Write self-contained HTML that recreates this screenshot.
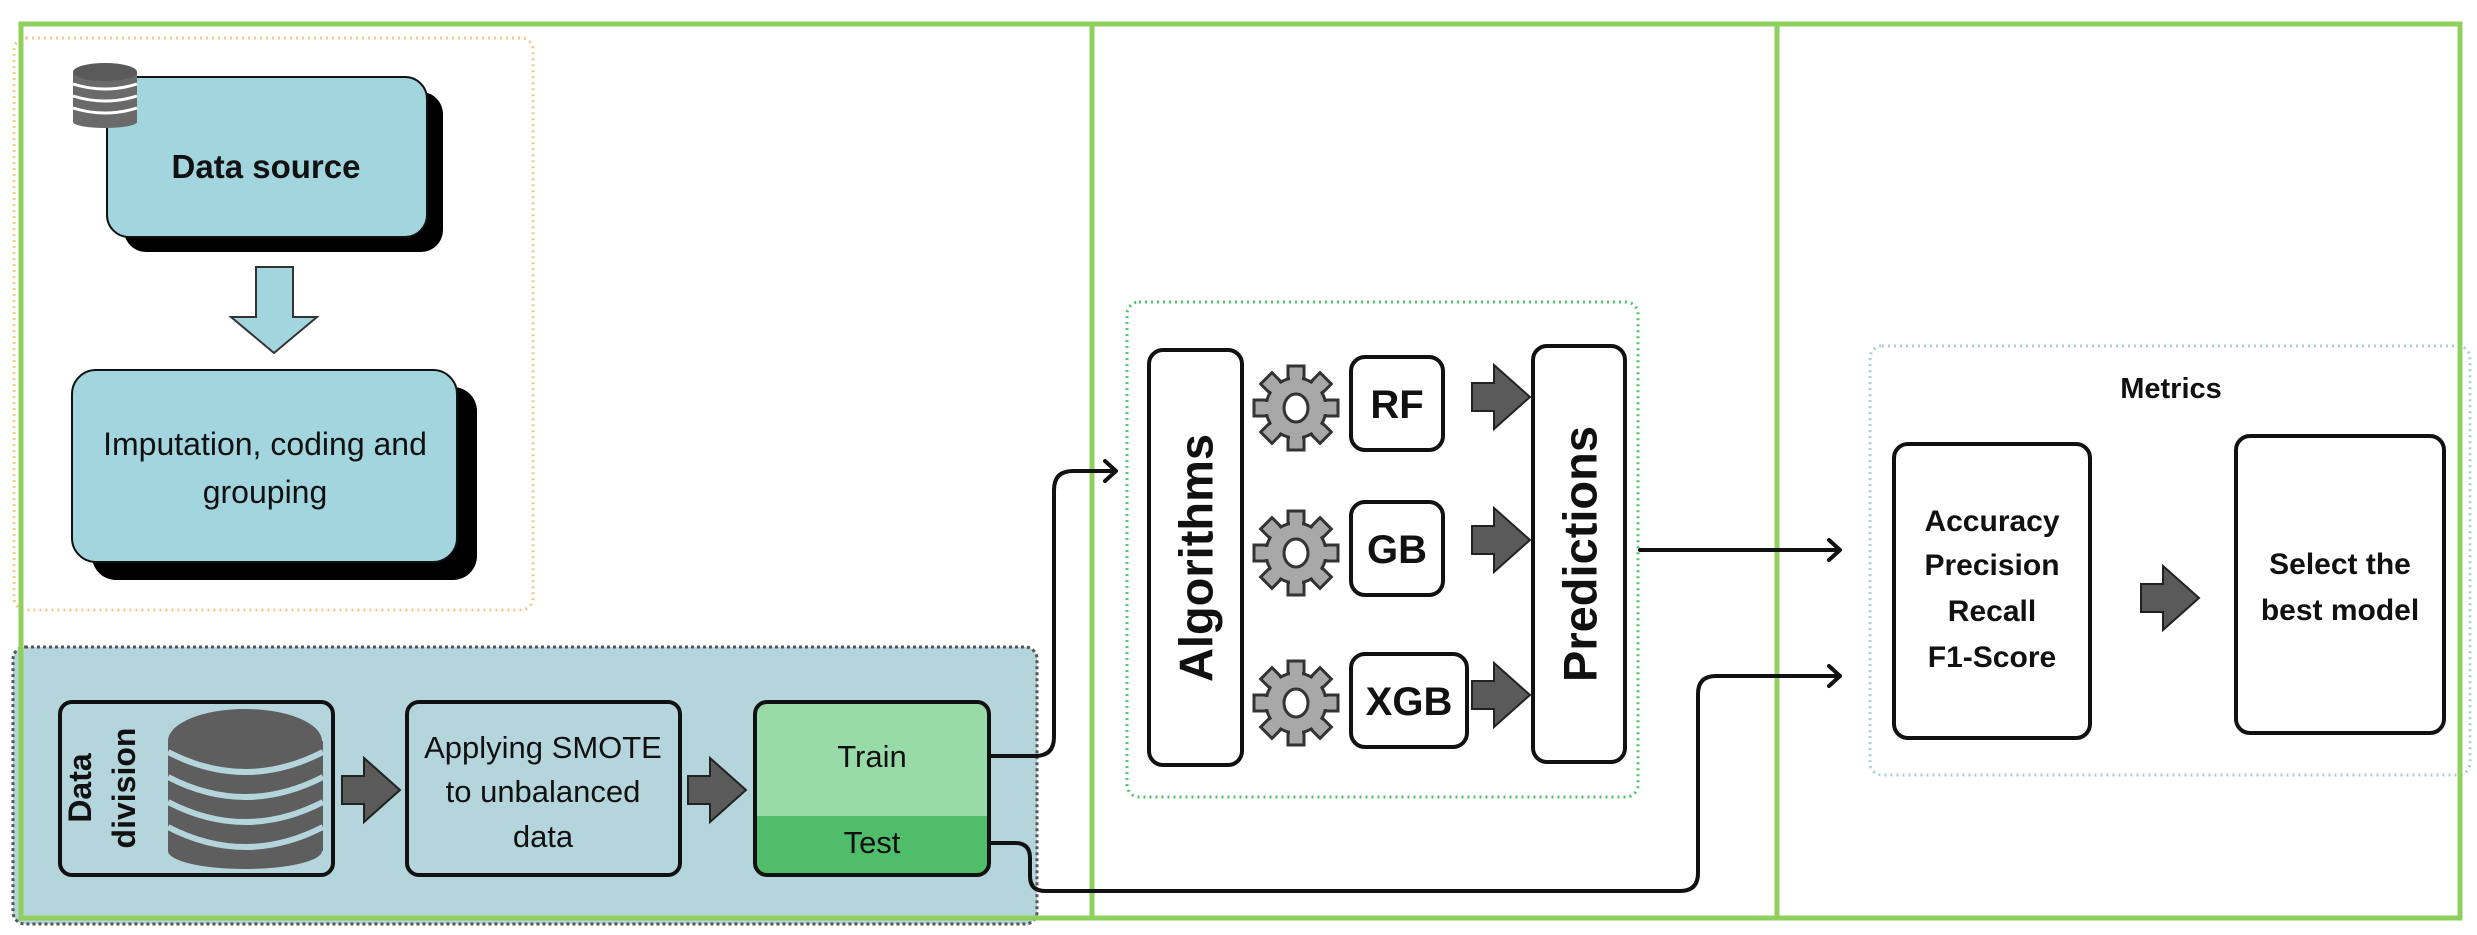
<!DOCTYPE html>
<html><head><meta charset="utf-8"><style>
html,body{margin:0;padding:0;background:#fff;}
svg{display:block;}
text{font-family:"Liberation Sans",sans-serif;}
</style></head><body>
<svg width="2477" height="935" viewBox="0 0 2477 935" xmlns="http://www.w3.org/2000/svg">
<defs>
<g id="gear">
  <g fill="#a8a8a8" stroke="#333" stroke-width="3">
    <rect x="-8" y="-42" width="16" height="20" transform="rotate(0)"/>
    <rect x="-8" y="-42" width="16" height="20" transform="rotate(45)"/>
    <rect x="-8" y="-42" width="16" height="20" transform="rotate(90)"/>
    <rect x="-8" y="-42" width="16" height="20" transform="rotate(135)"/>
    <rect x="-8" y="-42" width="16" height="20" transform="rotate(180)"/>
    <rect x="-8" y="-42" width="16" height="20" transform="rotate(225)"/>
    <rect x="-8" y="-42" width="16" height="20" transform="rotate(270)"/>
    <rect x="-8" y="-42" width="16" height="20" transform="rotate(315)"/>
  </g>
  <circle r="30" fill="#a8a8a8" stroke="#333" stroke-width="3"/>
  <g fill="#a8a8a8">
    <rect x="-6" y="-36" width="12" height="10" transform="rotate(0)"/>
    <rect x="-6" y="-36" width="12" height="10" transform="rotate(45)"/>
    <rect x="-6" y="-36" width="12" height="10" transform="rotate(90)"/>
    <rect x="-6" y="-36" width="12" height="10" transform="rotate(135)"/>
    <rect x="-6" y="-36" width="12" height="10" transform="rotate(180)"/>
    <rect x="-6" y="-36" width="12" height="10" transform="rotate(225)"/>
    <rect x="-6" y="-36" width="12" height="10" transform="rotate(270)"/>
    <rect x="-6" y="-36" width="12" height="10" transform="rotate(315)"/>
  </g>
  <ellipse rx="12" ry="14" fill="#fff" stroke="#333" stroke-width="3"/>
</g>
<g id="darr">
  <polygon points="0,-14 22,-14 22,-32 58,0 22,32 22,14 0,14" fill="#5a5a5a" stroke="#222" stroke-width="2"/>
</g>
</defs>

<rect x="14" y="38" width="519" height="572" rx="12" fill="none" stroke="#f5c98a" stroke-width="3" stroke-dasharray="2 4"/>

<rect x="124" y="92" width="319" height="160" rx="22" fill="#000"/>
<rect x="107" y="77" width="320" height="160" rx="22" fill="#a2d5de" stroke="#111" stroke-width="2"/>
<text x="266" y="178" font-size="33" font-weight="bold" text-anchor="middle" fill="#111">Data source</text>
<g>
  <rect x="73" y="72" width="64" height="50" fill="#6a6a6a"/>
  <ellipse cx="105" cy="122" rx="32" ry="6" fill="#6a6a6a"/>
  <ellipse cx="105" cy="72" rx="32" ry="9" fill="#5a5a5a"/>
  <path d="M73 84 Q105 94 137 84 M73 96 Q105 106 137 96 M73 108 Q105 118 137 108" stroke="#fff" stroke-width="3" fill="none"/>
</g>

<polygon points="256,267 293,267 293,317 317,317 274,353 231,317 256,317" fill="#a2d5de" stroke="#333" stroke-width="2"/>

<rect x="92" y="387" width="385" height="193" rx="24" fill="#000"/>
<rect x="72" y="370" width="385" height="192" rx="24" fill="#a2d5de" stroke="#111" stroke-width="2"/>
<text x="265" y="455" font-size="32" text-anchor="middle" fill="#111">Imputation, coding and</text>
<text x="265" y="503" font-size="32" text-anchor="middle" fill="#111">grouping</text>

<rect x="13" y="647" width="1024" height="277" rx="12" fill="#b5d5dc" stroke="#555" stroke-width="3" stroke-dasharray="3 3"/>

<rect x="60" y="702" width="273" height="173" rx="12" fill="#b5d5dc" stroke="#111" stroke-width="4"/>
<text transform="translate(80,788) rotate(-90)" font-family="DejaVu Sans" font-size="32" font-weight="bold" text-anchor="middle" dominant-baseline="central" fill="#111">Data</text>
<text transform="translate(124,788) rotate(-90)" font-family="DejaVu Sans" font-size="32" font-weight="bold" text-anchor="middle" dominant-baseline="central" fill="#111">division</text>
<g fill="#5e5e5e">
  <rect x="168" y="741" width="155" height="110"/>
  <ellipse cx="245" cy="851" rx="77" ry="18"/>
  <ellipse cx="245" cy="741" rx="77" ry="32"/>
</g>
<g fill="none" stroke="#b5d5dc" stroke-width="6">
  <path d="M168 752 Q245 792 323 752"/>
  <path d="M168 777 Q245 817 323 777"/>
  <path d="M168 802 Q245 842 323 802"/>
  <path d="M168 827 Q245 867 323 827"/>
</g>

<use href="#darr" x="342" y="790"/>

<rect x="407" y="702" width="273" height="173" rx="12" fill="#b5d5dc" stroke="#111" stroke-width="4"/>
<text x="543" y="758" font-size="31" text-anchor="middle" fill="#111">Applying SMOTE</text>
<text x="543" y="802" font-size="31" text-anchor="middle" fill="#111">to unbalanced</text>
<text x="543" y="847" font-size="31" text-anchor="middle" fill="#111">data</text>

<use href="#darr" x="688" y="790"/>

<clipPath id="tt"><rect x="755" y="702" width="234" height="173" rx="12"/></clipPath>
<g clip-path="url(#tt)">
  <rect x="755" y="702" width="234" height="114" fill="#98dba8"/>
  <rect x="755" y="816" width="234" height="60" fill="#4fbd6a"/>
</g>
<rect x="755" y="702" width="234" height="173" rx="12" fill="none" stroke="#111" stroke-width="4"/>
<text x="872" y="767" font-size="31" text-anchor="middle" fill="#111">Train</text>
<text x="872" y="853" font-size="31" text-anchor="middle" fill="#111">Test</text>

<rect x="1127" y="302" width="511" height="495" rx="12" fill="none" stroke="#4cc46a" stroke-width="3" stroke-dasharray="2 4"/>

<rect x="1149" y="350" width="93" height="415" rx="14" fill="#fff" stroke="#111" stroke-width="4"/>
<text transform="translate(1196,558) rotate(-90)" font-family="DejaVu Sans" font-size="47" font-weight="bold" text-anchor="middle" dominant-baseline="central" fill="#111">Algorithms</text>

<use href="#gear" x="1296" y="408"/>
<use href="#gear" x="1296" y="553"/>
<use href="#gear" x="1296" y="703"/>

<rect x="1351" y="357" width="92" height="93" rx="14" fill="#fff" stroke="#111" stroke-width="4"/>
<text x="1397" y="418" font-size="40" font-weight="bold" text-anchor="middle" fill="#111">RF</text>
<rect x="1351" y="502" width="92" height="93" rx="14" fill="#fff" stroke="#111" stroke-width="4"/>
<text x="1397" y="563" font-size="40" font-weight="bold" text-anchor="middle" fill="#111">GB</text>
<rect x="1351" y="654" width="116" height="93" rx="14" fill="#fff" stroke="#111" stroke-width="4"/>
<text x="1409" y="715" font-size="40" font-weight="bold" text-anchor="middle" fill="#111">XGB</text>

<use href="#darr" x="1472" y="397"/>
<use href="#darr" x="1472" y="540"/>
<use href="#darr" x="1472" y="695"/>

<rect x="1533" y="346" width="92" height="416" rx="14" fill="#fff" stroke="#111" stroke-width="4"/>
<text transform="translate(1580,554) rotate(-90)" font-family="DejaVu Sans" font-size="47" font-weight="bold" text-anchor="middle" dominant-baseline="central" fill="#111">Predictions</text>

<rect x="1870" y="346" width="600" height="429" rx="12" fill="none" stroke="#a9cfdc" stroke-width="3" stroke-dasharray="2 4"/>
<text x="2171" y="398" font-size="29" font-weight="bold" text-anchor="middle" fill="#111">Metrics</text>
<rect x="1894" y="444" width="196" height="294" rx="14" fill="#fff" stroke="#111" stroke-width="4"/>
<text x="1992" y="531" font-size="30" font-weight="bold" text-anchor="middle" fill="#111">Accuracy</text>
<text x="1992" y="575" font-size="30" font-weight="bold" text-anchor="middle" fill="#111">Precision</text>
<text x="1992" y="621" font-size="30" font-weight="bold" text-anchor="middle" fill="#111">Recall</text>
<text x="1992" y="667" font-size="30" font-weight="bold" text-anchor="middle" fill="#111">F1-Score</text>
<use href="#darr" x="2141" y="598"/>
<rect x="2236" y="436" width="208" height="297" rx="14" fill="#fff" stroke="#111" stroke-width="4"/>
<text x="2340" y="574" font-size="30" font-weight="bold" text-anchor="middle" fill="#111">Select the</text>
<text x="2340" y="620" font-size="30" font-weight="bold" text-anchor="middle" fill="#111">best model</text>

<g fill="none" stroke="#8fd05c" stroke-width="5">
  <rect x="21" y="24" width="2439" height="894"/>
  <line x1="1092" y1="24" x2="1092" y2="918"/>
  <line x1="1777" y1="24" x2="1777" y2="918"/>
</g>

<g fill="none" stroke="#111" stroke-width="4" stroke-linecap="round" stroke-linejoin="round">
  <path d="M989 756 H1035 Q1054 756 1054 737 V490 Q1054 471 1073 471 H1115"/>
  <path d="M1105 461 L1116 471 L1105 481"/>
  <path d="M989 843 H1015 Q1030 843 1030 858 V876 Q1030 891 1045 891 H1680 Q1698 891 1698 873 V694 Q1698 676 1716 676 H1839"/>
  <path d="M1829 666 L1840 676 L1829 686"/>
  <path d="M1640 550 H1839"/>
  <path d="M1829 540 L1840 550 L1829 560"/>
</g>
</svg>
</body></html>
